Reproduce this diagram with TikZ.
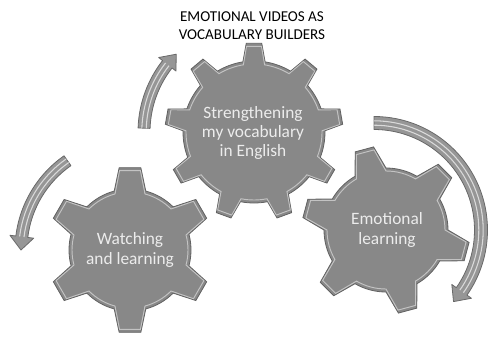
\documentclass[tikz,border=0pt]{standalone}
\usepackage{fontspec}
\setmainfont{Carlito}

\tikzset{every picture/.style={line width=0.75pt}}
\tikzset{
  gear/.style={draw={rgb, 255:red, 98; green, 98; blue, 98 }, fill={rgb, 255:red, 136; green, 136; blue, 136 }, line width=0.6},
  gearshine/.style={draw=white, draw opacity=0.5, line width=0.7},
  arrowbody/.style={draw={rgb, 255:red, 105; green, 105; blue, 105 }, fill={rgb, 255:red, 150; green, 150; blue, 150 }, line width=0.6, line join=round},
  arrowshine/.style={draw=white, draw opacity=0.65, line width=0.8},
  geartext/.style={text={rgb, 255:red, 236; green, 236; blue, 236 }, font=\fontsize{13}{14.5}\selectfont, align=center, inner sep=0.75pt},
  titletext/.style={font=\fontsize{11.3}{13.5}\selectfont, align=center, inner sep=0.75pt}
}

% gear: #1 centre, #2 teeth, #3 inner r, #4 outer r, #5 base half angle, #6 tip half angle, #7 first tooth angle
\newcommand{\gearloop}[7]{%
  ({#7-\gstep+#5}:#3) \foreach \k [evaluate=\k as \tc using #7+(\k-1)*\gstep] in {1,...,#2} {
      arc[start angle=\tc-\gstep+#5, end angle=\tc-#5, radius=#3]
      -- ({\tc-#6}:#4) -- ({\tc+#6}:#4) -- ({\tc+#5}:#3)
    } -- cycle
}
\newcommand{\drawgear}[7]{%
  \pgfmathsetmacro{\gstep}{360/#2}
  \pgfmathsetmacro{\rin}{#3-3}
  \pgfmathsetmacro{\rout}{#4-3}
  \draw[gear, shift={#1}] \gearloop{#1}{#2}{#3}{#4}{#5}{#6}{#7};
  \draw[gearshine, shift={#1}] \gearloop{#1}{#2}{\rin}{\rout}{#5}{#6}{#7};
}

% curved arrow: #1 centre, #2 radius, #3 tail angle, #4 head base angle, #5 tip angle, #6 half width, #7 head half width
\newcommand{\bentarrow}[7]{%
  \pgfmathsetmacro{\ra}{#2+#6}
  \pgfmathsetmacro{\rb}{#2-#6}
  \pgfmathsetmacro{\rc}{#2+#7}
  \pgfmathsetmacro{\rd}{#2-#7}
  \pgfmathsetmacro{\re}{#2+2.2}
  \pgfmathsetmacro{\rf}{#2-2.2}
  \draw[arrowbody, shift={#1}] (#3:\ra) arc[start angle=#3, end angle=#4, radius=\ra] -- (#4:\rc) -- (#5:#2) -- (#4:\rd) -- (#4:\rb) arc[start angle=#4, end angle=#3, radius=\rb] -- cycle;
  \draw[arrowshine, shift={#1}] (#3:\re) arc[start angle=#3, end angle=#4, radius=\re];
  \draw[arrowshine, shift={#1}] (#3:\rf) arc[start angle=#3, end angle=#4, radius=\rf];
}

\begin{document}
\begin{tikzpicture}[x=0.75pt,y=0.75pt,yscale=-1,xscale=1]
\useasboundingbox (0,0) rectangle (489,336);

%Shape: Gear (top)
\drawgear{(254,132)}{9}{71}{89}{9}{5}{-90}
%Shape: Gear (bottom left)
\drawgear{(130,250)}{6}{61}{83}{15}{7.5}{-90}
%Shape: Gear (right)
\drawgear{(386,230)}{6}{62}{84}{15}{6.5}{-105}

%Curved Arrows
\bentarrow{(254,132)}{110}{-178}{-142}{-135}{6}{11}
\bentarrow{(130,250)}{109}{-125}{-173}{-180}{6}{12}
\bentarrow{(374,230)}{107}{-90}{35}{42}{6.5}{12}

% Text Node
\node[titletext] (title) at (252,26) {EMOTIONAL VIDEOS AS\\VOCABULARY BUILDERS};
% Text Node
\node[geartext] (strengthening) at (253,133) {Strengthening\\my vocabulary\\in English};
% Text Node
\node[geartext] (watching) at (130,250) {Watching\\and learning};
% Text Node
\node[geartext] (emotional) at (387,230) {Emotional\\learning};

\end{tikzpicture}
\end{document}
